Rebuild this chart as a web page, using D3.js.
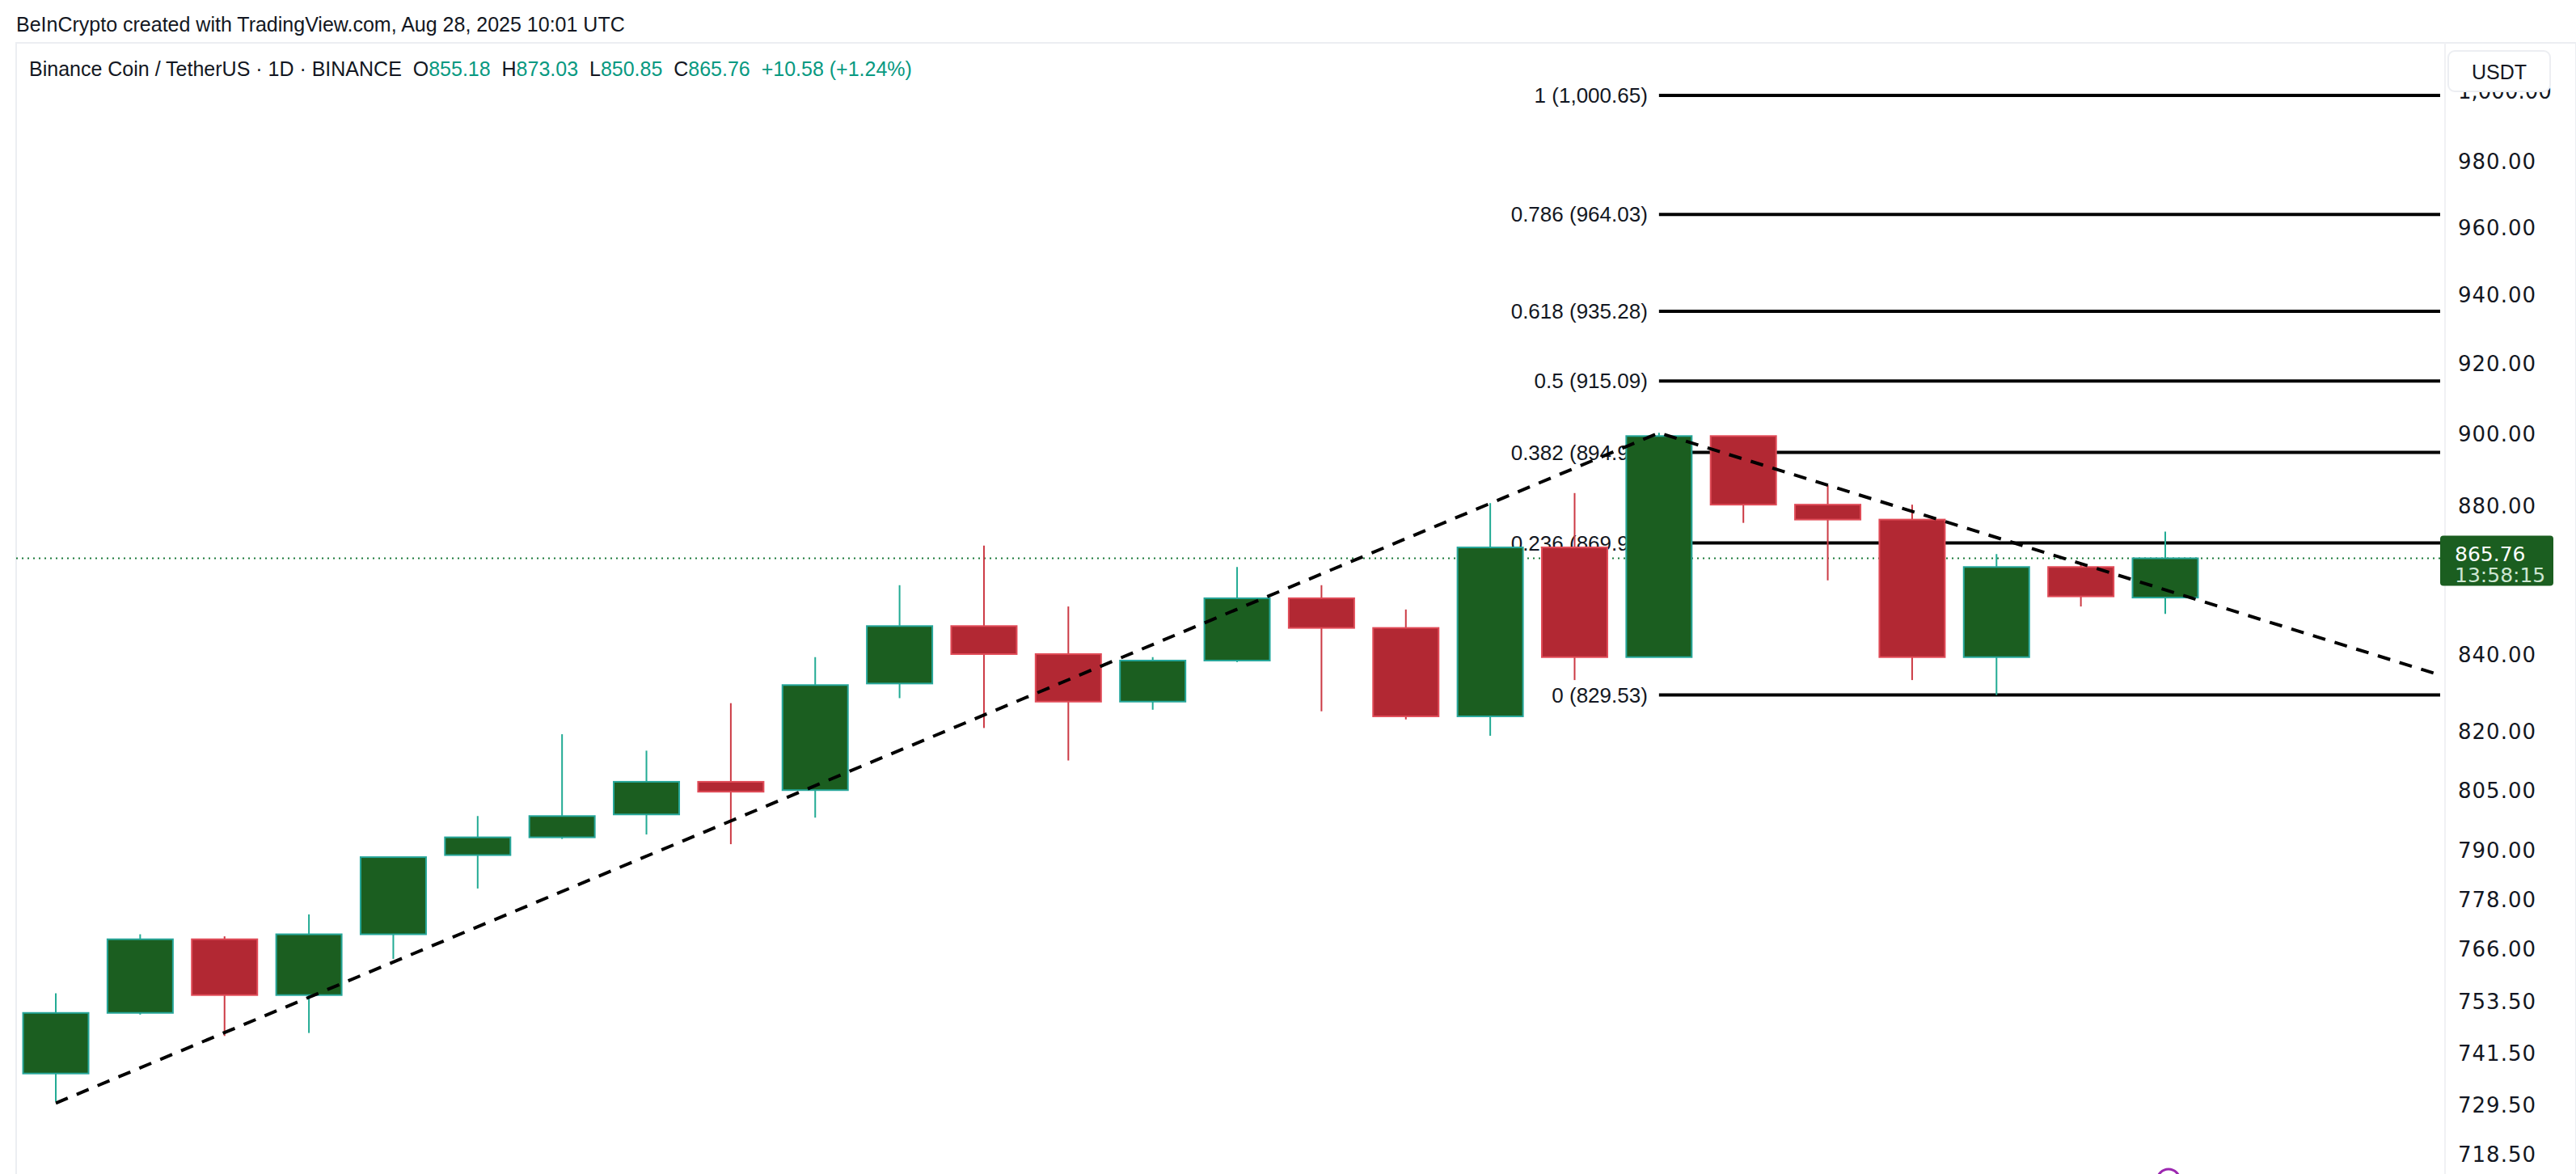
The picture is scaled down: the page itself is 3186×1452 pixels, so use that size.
<!DOCTYPE html>
<html><head><meta charset="utf-8">
<script src="https://cdn.jsdelivr.net/npm/d3@7/dist/d3.min.js"></script>
<style>body{margin:0;background:#fff}svg{display:block;font-family:"Liberation Sans",Arial,sans-serif}text{white-space:pre}</style>
</head><body><svg id="c" width="3186" height="1452"></svg>
<script>
const opens  = [736.9,751.0,768.5,755.2,769.7,789.0,793.4,799.1,807.3,805.2,832.5,847.6,840.2,827.8,838.5,855.0,847.1,824.0,868.7,839.4,899.5,880.4,876.3,839.4,863.4,855.18];
const highs  = [755.6,769.7,769.2,774.5,788.5,798.7,819.4,815.2,827.4,839.4,858.5,869.2,852.8,839.4,863.4,858.5,852.0,880.8,883.6,900.4,899.5,885.8,880.4,866.9,864.3,873.03];
const lows   = [730.5,750.6,745.6,746.3,763.8,780.8,793.0,794.1,791.7,798.3,828.7,821.0,812.7,825.7,838.1,825.3,823.2,819.0,833.4,839.4,875.4,859.8,833.4,829.5,852.8,850.85];
const closes = [751.0,768.5,755.2,769.7,788.5,793.4,798.7,807.3,804.8,832.1,847.6,840.2,827.8,838.5,855.0,847.1,824.0,868.7,839.4,899.5,880.4,876.3,839.4,863.4,855.5,865.76];
const fibLevels = [1,0.786,0.618,0.5,0.382,0.236,0];
const fibValues = [1000.65,964.03,935.28,915.09,894.90,869.91,829.53];
const tickValues = [980,960,940,920,900,880,840,820,805,790,778,766,753.5,741.5,729.5,718.5];
const trendIdx = [0,19,28.2];
const trendVal = [730.1,900.4,835.1];
const lastPrice = 865.76;

const svg = d3.select("#c");
const x = d3.scaleLinear().domain([0,25]).range([69,2678]);
const y = d3.scaleLog().domain([829.53,1000.65]).range([859.5,117.9]);
const axisX = 3024, lineEnd = 3018;

svg.append("text").attr("x",20).attr("y",39).attr("font-size",25).attr("fill","#131722").text("BeInCrypto created with TradingView.com, Aug 28, 2025 10:01 UTC");
svg.append("rect").attr("x",20).attr("y",53).attr("width",3166).attr("height",1420).attr("fill","none").attr("stroke","#eceef2").attr("stroke-width",2);
svg.append("line").attr("x1",axisX).attr("x2",axisX).attr("y1",53).attr("y2",1452).attr("stroke","#f0f1f4").attr("stroke-width",2);

const hdr = svg.append("text").attr("x",36).attr("y",94).attr("font-size",25).attr("fill","#131722");
hdr.append("tspan").text("Binance Coin / TetherUS · 1D · BINANCE  ");
[["O","855.18"],["H","873.03"],["L","850.85"],["C","865.76"]].forEach(([k,v])=>{
  hdr.append("tspan").text(k); hdr.append("tspan").attr("fill","#089981").text(v+"  ");
});
hdr.append("tspan").attr("fill","#089981").text("+10.58 (+1.24%)");

svg.append("line").attr("x1",20).attr("x2",axisX).attr("y1",y(lastPrice)).attr("y2",y(lastPrice)).attr("stroke","#1b7a3a").attr("stroke-width",2).attr("stroke-dasharray","2,5");

const fx1 = x(19);
fibValues.forEach((v,i)=>{
  svg.append("line").attr("x1",fx1).attr("x2",lineEnd).attr("y1",y(v)).attr("y2",y(v)).attr("stroke","#000").attr("stroke-width",4);
  svg.append("text").attr("x",fx1-14).attr("y",y(v)+9).attr("text-anchor","end").attr("font-size",26).attr("fill","#131722")
    .text(fibLevels[i]+" ("+d3.format(",.2f")(v)+")");
});

const bw = 81;
d3.range(opens.length).forEach(i=>{
  const up = closes[i]>=opens[i];
  const wick = up?"#22ab94":"#cc3a44";
  svg.append("line").attr("x1",x(i)).attr("x2",x(i)).attr("y1",y(highs[i])).attr("y2",y(lows[i])).attr("stroke",wick).attr("stroke-width",2);
  const top = y(Math.max(opens[i],closes[i])), bot = y(Math.min(opens[i],closes[i]));
  svg.append("rect").attr("x",x(i)-bw/2).attr("y",top).attr("width",bw).attr("height",Math.max(bot-top,2))
    .attr("fill",up?"#1b5e20":"#b22833").attr("stroke",up?"#26a69a":"#e04b57").attr("stroke-width",2);
});

svg.append("path").datum(trendIdx.map((t,i)=>[t,trendVal[i]]))
  .attr("d",d3.line().x(d=>x(d[0])).y(d=>y(d[1]))).attr("fill","none").attr("stroke","#000").attr("stroke-width",4).attr("stroke-dasharray","16,12");

const ax = svg.append("g").attr("transform",`translate(${axisX},0)`);
ax.call(d3.axisRight(y).tickValues(tickValues).tickSize(0).tickPadding(16).tickFormat(d3.format(".2f")));
ax.select(".domain").remove();
ax.selectAll("text").attr("font-size",26).attr("fill","#131722").attr("font-family","DejaVu Sans, Arial").attr("letter-spacing",1);
svg.append("text").attr("x",axisX+16).attr("y",y(1000.65)+4).attr("font-size",26).attr("font-family","DejaVu Sans").attr("fill","#131722").text("1,000.00");

svg.append("rect").attr("x",3028).attr("y",63).attr("width",126).attr("height",50).attr("rx",8).attr("fill","#fff").attr("stroke","#eceef2").attr("stroke-width",2);
svg.append("text").attr("x",3091).attr("y",98).attr("text-anchor","middle").attr("font-size",25).attr("fill","#131722").text("USDT");

svg.append("rect").attr("x",3018).attr("y",y(lastPrice)-28).attr("width",140).attr("height",62).attr("rx",4).attr("fill","#1b5e20");
svg.append("text").attr("x",3036).attr("y",y(lastPrice)+4).attr("font-size",25).attr("font-family","DejaVu Sans").attr("fill","#fff").text(lastPrice.toFixed(2));
svg.append("text").attr("x",3036).attr("y",y(lastPrice)+30).attr("font-size",25).attr("font-family","DejaVu Sans").attr("fill","#cde6d2").text("13:58:15");

svg.append("circle").attr("cx",2682).attr("cy",1460).attr("r",14).attr("fill","none").attr("stroke","#9c27b0").attr("stroke-width",3);
</script></body></html>
